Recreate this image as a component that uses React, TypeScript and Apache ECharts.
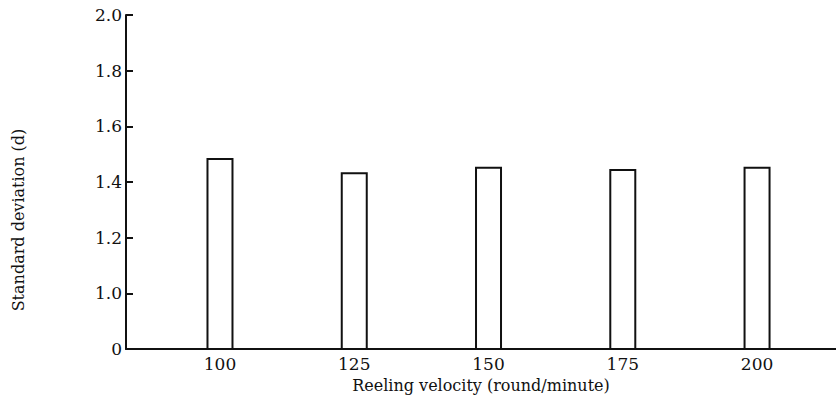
import React, { useEffect, useRef } from "react";
import * as echarts from "echarts";

const velocities = [100, 125, 150, 175, 200];
const stdDev = [1.486, 1.435, 1.455, 1.447, 1.455];
const yTickValues = [0.8, 1.0, 1.2, 1.4, 1.6, 1.8, 2.0];
const xTitle = "Reeling velocity (round/minute)";
const yTitle = "Standard deviation (d)";

const FONT = "'DejaVu Serif', 'Liberation Serif', serif";

export default function App() {
  const ref = useRef<HTMLDivElement>(null);
  useEffect(() => {
    if (!ref.current) return;
    const chart = echarts.init(ref.current, null, { renderer: "svg" });
    chart.setOption({
      animation: false,
      backgroundColor: "#ffffff",
      grid: { left: 126, right: 0, top: 15, bottom: 70 },
      xAxis: {
        type: "value",
        min: 82.5,
        max: 214.7,
        name: xTitle,
        nameLocation: "middle",
        nameGap: 28,
        nameTextStyle: { fontFamily: FONT, fontSize: 16, color: "#111" },
        axisLine: { show: true, lineStyle: { color: "#111", width: 2 } },
        axisTick: { show: false },
        splitLine: { show: false },
        axisLabel: {
          customValues: velocities,
          fontFamily: FONT,
          fontSize: 17,
          color: "#111",
          margin: 6,
        },
      },
      yAxis: {
        type: "value",
        min: 0.8,
        max: 2.0,
        interval: 0.2,
        axisLine: { show: true, lineStyle: { color: "#111", width: 2 } },
        axisTick: {
          show: true,
          inside: true,
          length: 7,
          lineStyle: { color: "#111", width: 2 },
          customValues: yTickValues.slice(1),
        },
        splitLine: { show: false },
        axisLabel: {
          customValues: yTickValues,
          fontFamily: FONT,
          fontSize: 17,
          color: "#111",
          margin: 4,
          formatter: (v: number) => (Math.abs(v - 0.8) < 1e-6 ? "0" : v.toFixed(1)),
        },
      },
      graphic: [
        {
          type: "text",
          x: 18,
          y: 220,
          rotation: Math.PI / 2,
          style: {
            text: yTitle,
            fontFamily: FONT,
            fontSize: 16,
            fill: "#111",
            align: "center",
            verticalAlign: "middle",
          },
        },
      ],
      series: [
        {
          type: "bar",
          barWidth: 27,
          data: velocities.map((v, i) => [v, stdDev[i]]),
          itemStyle: { color: "#ffffff", borderColor: "#111", borderWidth: 2 },
        },
      ],
    });
    return () => chart.dispose();
  }, []);
  return (
    <div
      ref={ref}
      style={{ position: "fixed", left: 0, top: 0, width: 836, height: 419 }}
    />
  );
}
